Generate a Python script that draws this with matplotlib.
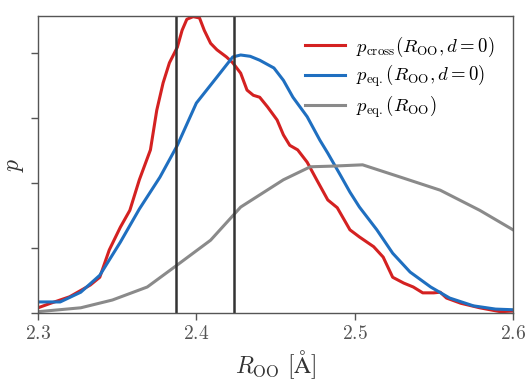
import numpy as np
import matplotlib
matplotlib.use("Agg")
import matplotlib.pyplot as plt

# R_OO grid points (Angstrom) and probability (arbitrary units)
r_cross = [2.300, 2.308, 2.320, 2.333, 2.339, 2.345, 2.352, 2.358, 2.364, 2.371,
           2.375, 2.379, 2.383, 2.388, 2.391, 2.394, 2.398, 2.402, 2.405, 2.409,
           2.413, 2.419, 2.423, 2.428, 2.432, 2.436, 2.440, 2.445, 2.451, 2.455,
           2.459, 2.464, 2.470, 2.476, 2.483, 2.489, 2.497, 2.503, 2.512, 2.518,
           2.524, 2.531, 2.537, 2.543, 2.550, 2.554, 2.558, 2.567, 2.579, 2.592,
           2.600]
p_cross = [0.08, 0.15, 0.25, 0.43, 0.55, 0.97, 1.32, 1.58, 2.05, 2.51,
           3.12, 3.54, 3.85, 4.09, 4.35, 4.52, 4.56, 4.54, 4.35, 4.15,
           4.05, 3.94, 3.85, 3.69, 3.43, 3.35, 3.32, 3.17, 2.97, 2.74,
           2.58, 2.51, 2.32, 2.05, 1.74, 1.62, 1.28, 1.17, 1.02, 0.86,
           0.55, 0.46, 0.40, 0.31, 0.31, 0.32, 0.23, 0.15, 0.08, 0.02,
           0.03]

r_eq_d0 = [2.300, 2.314, 2.327, 2.339, 2.352, 2.364, 2.377, 2.388, 2.400, 2.413,
           2.423, 2.428, 2.434, 2.440, 2.449, 2.455, 2.461, 2.470, 2.478, 2.483,
           2.491, 2.497, 2.503, 2.514, 2.524, 2.535, 2.548, 2.560, 2.575, 2.589,
           2.600]
p_eq_d0 = [0.17, 0.17, 0.32, 0.58, 1.09, 1.60, 2.09, 2.58, 3.23, 3.63,
           3.94, 3.97, 3.95, 3.89, 3.77, 3.58, 3.32, 3.02, 2.66, 2.46,
           2.12, 1.86, 1.63, 1.28, 0.92, 0.63, 0.40, 0.23, 0.11, 0.06,
           0.05]

r_eq = [2.300, 2.327, 2.347, 2.369, 2.388, 2.409, 2.428, 2.455, 2.472, 2.486,
        2.505, 2.529, 2.554, 2.579, 2.600]
p_eq = [0.02, 0.08, 0.20, 0.40, 0.74, 1.12, 1.63, 2.05, 2.25, 2.26,
        2.28, 2.09, 1.89, 1.58, 1.28]

vlines = [2.387, 2.424]

plt.rcParams["mathtext.fontset"] = "cm"
plt.rcParams["font.family"] = "serif"
plt.rcParams["font.serif"] = ["DejaVu Serif"]

fig = plt.figure(figsize=(5.28, 3.81), dpi=100)
ax = fig.add_axes([0.072, 0.1785, 0.8996, 0.7795])

ax.plot(r_cross, p_cross, color="#d42121", lw=2.2, solid_joinstyle="round",
        label=r"$p_{\rm cross}(R_{\rm OO}, d=0)$")
ax.plot(r_eq_d0, p_eq_d0, color="#1f6fc0", lw=2.2, solid_joinstyle="round",
        label=r"$p_{\rm eq.}(R_{\rm OO}, d=0)$")
ax.plot(r_eq, p_eq, color="#8a8a8a", lw=2.2, solid_joinstyle="round",
        label=r"$p_{\rm eq.}(R_{\rm OO})$")
for v in vlines:
    ax.axvline(v, color="#333333", lw=1.8)

ax.set_xlim(2.3, 2.6)
ax.set_ylim(0, 4.57)
ax.set_xticks([2.3, 2.4, 2.5, 2.6])
ax.set_xticklabels([r"$2.3$", r"$2.4$", r"$2.5$", r"$2.6$"])
ax.set_yticks([0, 1, 2, 3, 4])
ax.set_yticklabels([])
ax.tick_params(colors="#555555", labelcolor="#555555", labelsize=14,
               direction="out", length=5, width=1)
for s in ax.spines.values():
    s.set_color("#555555")
    s.set_linewidth(1.0)

ax.set_xlabel(r"$R_{\rm OO}\ [\mathrm{\AA}]$", fontsize=17, color="#333333",
              labelpad=4)
ax.set_ylabel(r"$p$", fontsize=17, color="#333333", labelpad=0)

ax.legend(loc="upper right", frameon=False, fontsize=13.5, handlelength=2.1,
          handletextpad=0.6, borderaxespad=0.6, labelspacing=0.22)

fig.savefig("out.png", dpi=100)
